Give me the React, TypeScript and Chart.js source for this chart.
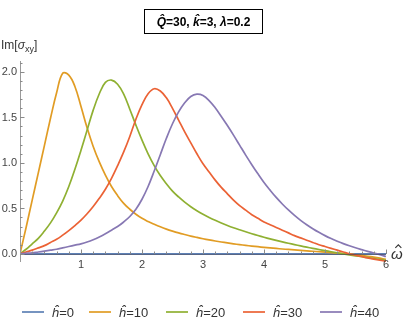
import React, { useEffect, useRef } from "react";
import { Chart, registerables } from "chart.js";

Chart.register(...registerables);

const FAMILY = '"Liberation Sans", Arial, sans-serif';

const omega = [
  0.0, 0.1, 0.2, 0.3, 0.4, 0.5, 0.6, 0.7, 0.8, 0.9,
  1.0, 1.1, 1.2, 1.3, 1.4, 1.5, 1.6, 1.7, 1.8, 1.9,
  2.0, 2.1, 2.2, 2.3, 2.4, 2.5, 2.6, 2.7, 2.8, 2.9,
  3.0, 3.1, 3.2, 3.3, 3.4, 3.5, 3.6, 3.7, 3.8, 3.9,
  4.0, 4.1, 4.2, 4.3, 4.4, 4.5, 4.6, 4.7, 4.8, 4.9,
  5.0, 5.1, 5.2, 5.3, 5.4, 5.5, 5.6, 5.7, 5.8, 5.9,
  6.0,
];

const h0 = [
  0, 0, 0, 0, 0, 0, 0, 0, 0, 0,
  0, 0, 0, 0, 0, 0, 0, 0, 0, 0,
  0, 0, 0, 0, 0, 0, 0, 0, 0, 0,
  0, 0, 0, 0, 0, 0, 0, 0, 0, 0,
  0, 0, 0, 0, 0, 0, 0, 0, 0, 0,
  0, 0, 0, 0, 0, 0, 0, 0, 0, 0,
  0,
];

const h10 = [
  0, 0.29, 0.59, 0.89, 1.19, 1.49, 1.77, 1.985, 1.965, 1.84,
  1.62, 1.385, 1.18, 1.01, 0.865, 0.74, 0.64, 0.555, 0.49, 0.435,
  0.39, 0.355, 0.325, 0.297, 0.272, 0.25, 0.23, 0.212, 0.195, 0.18,
  0.166, 0.153, 0.141, 0.13, 0.12, 0.11, 0.101, 0.093, 0.085, 0.078,
  0.071, 0.065, 0.059, 0.053, 0.048, 0.043, 0.038, 0.033, 0.028, 0.023,
  0.018, 0.013, 0.008, 0.003, -0.003, -0.01, -0.018, -0.027, -0.037, -0.048,
  -0.06,
];

const h20 = [
  0, 0.05, 0.11, 0.17, 0.25, 0.34, 0.45, 0.58, 0.74, 0.93,
  1.14, 1.36, 1.58, 1.76, 1.885, 1.91, 1.865, 1.755, 1.59, 1.415,
  1.25, 1.1, 0.97, 0.86, 0.77, 0.69, 0.625, 0.568, 0.518, 0.474,
  0.435, 0.4, 0.368, 0.339, 0.312, 0.287, 0.264, 0.242, 0.221, 0.201,
  0.182, 0.164, 0.147, 0.131, 0.116, 0.101, 0.087, 0.073, 0.06, 0.047,
  0.035, 0.023, 0.011, 0.0, -0.011, -0.022, -0.032, -0.042, -0.052, -0.062,
  -0.072,
];

const h30 = [
  0, 0.02, 0.04, 0.065, 0.09, 0.125, 0.16, 0.205, 0.255, 0.31,
  0.37, 0.44, 0.52, 0.61, 0.71, 0.83, 0.97, 1.12, 1.29, 1.48,
  1.64, 1.76, 1.815, 1.79, 1.715, 1.6, 1.47, 1.34, 1.22, 1.1,
  0.99, 0.9, 0.81, 0.73, 0.66, 0.59, 0.53, 0.48, 0.43, 0.39,
  0.35, 0.32, 0.29, 0.26, 0.23, 0.2, 0.175, 0.15, 0.125, 0.1,
  0.08, 0.06, 0.04, 0.02, 0.0, -0.015, -0.03, -0.045, -0.058, -0.07,
  -0.082,
];

const h40 = [
  0, 0.005, 0.01, 0.02, 0.03, 0.04, 0.05, 0.065, 0.08, 0.095,
  0.11, 0.13, 0.155, 0.185, 0.22, 0.26, 0.3, 0.35, 0.41, 0.49,
  0.6, 0.74, 0.91, 1.09, 1.27, 1.43, 1.56, 1.66, 1.73, 1.755,
  1.74, 1.685, 1.605, 1.51, 1.41, 1.305, 1.195, 1.085, 0.98, 0.88,
  0.785, 0.7, 0.62, 0.548, 0.482, 0.422, 0.368, 0.32, 0.276, 0.236,
  0.2, 0.168, 0.139, 0.112, 0.088, 0.066, 0.046, 0.027, 0.009, -0.009,
  -0.03,
];

const seriesNames = ["0", "10", "20", "30", "40"];
const seriesValues = [h0, h10, h20, h30, h40];
const seriesColors = ["#5E81B5", "#E19C24", "#8FB032", "#EB6235", "#8778B3"];

const xMajorTicks = [1, 2, 3, 4, 5, 6];
const xTickLabels = ["1", "2", "3", "4", "5", "6"];
const yMajorTicks = [0, 0.5, 1.0, 1.5, 2.0];
const yTickLabels = ["0.0", "0.5", "1.0", "1.5", "2.0"];

type Seg = { t: string; it?: boolean; sub?: boolean };

function segFont(s: Seg, size: number, bold: boolean) {
  return `${s.it ? "italic " : ""}${bold ? "bold " : ""}${s.sub ? Math.round(size * 0.75) : size}px ${FAMILY}`;
}

function drawRich(
  ctx: CanvasRenderingContext2D,
  segs: Seg[],
  x: number,
  y: number,
  size: number,
  bold: boolean,
  align: "left" | "center"
) {
  let total = 0;
  for (const s of segs) {
    ctx.font = segFont(s, size, bold);
    total += ctx.measureText(s.t).width;
  }
  let cx = align === "center" ? x - total / 2 : x;
  ctx.textAlign = "left";
  ctx.textBaseline = "alphabetic";
  for (const s of segs) {
    ctx.font = segFont(s, size, bold);
    ctx.fillText(s.t, cx, s.sub ? y + size * 0.28 : y);
    cx += ctx.measureText(s.t).width;
  }
}

const decorPlugin = {
  id: "decor",
  afterDatasetsDraw(chart: any) {
    const ctx: CanvasRenderingContext2D = chart.ctx;
    const xs = chart.scales.x;
    const ys = chart.scales.y;
    const area = chart.chartArea;
    const y0 = ys.getPixelForValue(0);
    const x0 = xs.getPixelForValue(0);
    ctx.save();

    // axes
    ctx.lineWidth = 1;
    ctx.strokeStyle = "rgba(50,55,80,0.55)";
    ctx.beginPath();
    ctx.moveTo(area.left, Math.round(y0) + 0.5);
    ctx.lineTo(area.right, Math.round(y0) + 0.5);
    ctx.stroke();
    ctx.strokeStyle = "#9a9a9a";
    ctx.beginPath();
    ctx.moveTo(Math.round(x0) + 0.5, area.top);
    ctx.lineTo(Math.round(x0) + 0.5, area.bottom);
    ctx.stroke();

    // x ticks (major 1, minor 0.2)
    ctx.strokeStyle = "#8a8a8a";
    for (let k = 1; k <= 30; k++) {
      const px = Math.round(xs.getPixelForValue(k * 0.2)) + 0.5;
      const major = k % 5 === 0;
      ctx.beginPath();
      ctx.moveTo(px, Math.round(y0));
      ctx.lineTo(px, Math.round(y0) - (major ? 4.5 : 2.5));
      ctx.stroke();
    }
    // y ticks (major 0.5, minor 0.1)
    for (let k = 0; k <= 21; k++) {
      const py = Math.round(ys.getPixelForValue(k * 0.1)) + 0.5;
      const major = k % 5 === 0;
      ctx.beginPath();
      ctx.moveTo(Math.round(x0), py);
      ctx.lineTo(Math.round(x0) + (major ? 4.5 : 2.5), py);
      ctx.stroke();
    }

    // tick labels
    ctx.fillStyle = "#444";
    ctx.font = `11px ${FAMILY}`;
    ctx.textAlign = "center";
    ctx.textBaseline = "alphabetic";
    xMajorTicks.forEach((v, i) => {
      ctx.fillText(xTickLabels[i], xs.getPixelForValue(v), y0 + 14);
    });
    ctx.textAlign = "right";
    ctx.textBaseline = "middle";
    yMajorTicks.forEach((v, i) => {
      ctx.fillText(yTickLabels[i], x0 - 3, ys.getPixelForValue(v) + 0.5);
    });

    // axis labels
    ctx.fillStyle = "#333";
    drawRich(ctx, [{ t: "Im[" }, { t: "σ", it: true }, { t: "xy", sub: true }, { t: "]" }], 1, 49, 12, false, "left");

    // omega with hat
    const ox = area.right + 5;
    const oy = y0 + 5;
    ctx.font = `italic 15px ${FAMILY}`;
    ctx.textAlign = "left";
    ctx.textBaseline = "alphabetic";
    const ow = ctx.measureText("ω").width;
    ctx.fillText("ω", ox, oy);
    const hx = ox + ow / 2 + 1.5;
    const htop = oy - 14;
    ctx.strokeStyle = "#333";
    ctx.lineWidth = 1.1;
    ctx.beginPath();
    ctx.moveTo(hx - 3, htop + 3);
    ctx.lineTo(hx, htop);
    ctx.lineTo(hx + 3, htop + 3);
    ctx.stroke();

    // title box
    ctx.fillStyle = "#000";
    ctx.strokeStyle = "#000";
    ctx.lineWidth = 1;
    ctx.strokeRect(144.5, 9.5, 118, 24);
    drawRich(
      ctx,
      [
        { t: "Q\u0302", it: true },
        { t: "=30, " },
        { t: "k\u0302", it: true },
        { t: "=3, " },
        { t: "λ", it: true },
        { t: "=0.2" },
      ],
      203.5,
      26,
      12,
      true,
      "center"
    );

    // legend
    const starts = [22, 89, 166, 243, 320];
    const ly = 312;
    seriesNames.forEach((name, i) => {
      const sx = starts[i];
      ctx.strokeStyle = seriesColors[i];
      ctx.lineWidth = 1.7;
      ctx.beginPath();
      ctx.moveTo(sx, ly);
      ctx.lineTo(sx + 22, ly);
      ctx.stroke();
      ctx.fillStyle = "#333";
      drawRich(ctx, [{ t: "h\u0302", it: true }, { t: "=" + name }], sx + 30, ly + 4.5, 13, false, "left");
    });

    ctx.restore();
  },
};

export default function App() {
  const canvasRef = useRef<HTMLCanvasElement | null>(null);

  useEffect(() => {
    const canvas = canvasRef.current;
    if (!canvas) return;
    const datasets = seriesValues.map((vals, i) => ({
      label: "ĥ=" + seriesNames[i],
      data: omega.map((x, j) => ({ x, y: vals[j] })),
      borderColor: seriesColors[i],
      backgroundColor: seriesColors[i],
      borderWidth: 1.7,
      pointRadius: 0,
      pointHoverRadius: 0,
      tension: 0.4,
      fill: false,
      order: seriesValues.length - i,
    }));
    const chart = new Chart(canvas, {
      type: "line",
      data: { datasets },
      options: {
        animation: false,
        responsive: false,
        devicePixelRatio: 1,
        layout: { padding: { left: 20, right: 21, top: 61, bottom: 65 } },
        plugins: {
          legend: { display: false },
          title: { display: false },
          tooltip: { enabled: false },
        },
        scales: {
          x: { type: "linear", min: 0, max: 6, display: false },
          y: { type: "linear", min: -0.09, max: 2.12, display: false },
        },
      },
      plugins: [decorPlugin],
    });
    return () => chart.destroy();
  }, []);

  return (
    <div style={{ position: "fixed", left: 0, top: 0, width: 407, height: 327, background: "#fff" }}>
      <canvas ref={canvasRef} width={407} height={327} style={{ width: 407, height: 327, display: "block" }} />
    </div>
  );
}
